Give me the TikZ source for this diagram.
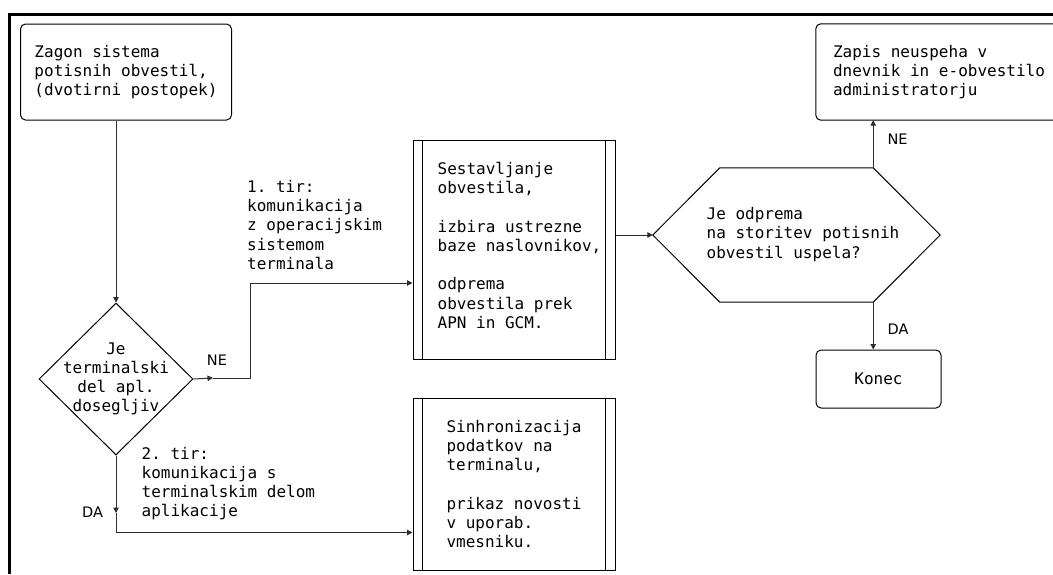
\documentclass[tikz,border=0pt]{standalone}
\usepackage{fontspec}
\setmonofont{DejaVu Sans Mono}
\newfontfamily\edgefont{DejaVu Sans}
\usetikzlibrary{arrows.meta, positioning, calc, shapes.geometric}
\definecolor{flowline}{RGB}{45, 45, 45}
\newcommand{\boxfont}{\ttfamily\fontsize{16}{19.2}\selectfont}
\tikzset{
  roundbox/.style={draw, rounded corners=5pt, line width=1pt, align=left,
    inner sep=0pt, font=\boxfont},
  procbox/.style={draw, line width=1pt, inner sep=0pt,
    minimum width=202pt},
  boxtext/.style={align=left, inner sep=0pt, font=\boxfont},
  edgetext/.style={inner sep=0pt, font=\edgefont\fontsize{14.5}{16}\selectfont},
  flow/.style={draw=flowline, line width=1pt, -{Triangle[length=5.5pt,width=5.5pt]}}
}

\begin{document}
\begin{tikzpicture}[x=1pt, y=-1pt]

  \useasboundingbox (0,0) rectangle (1053,574);
  \clip (0,0) rectangle (1053,574);

  % --- page frame ---
  \draw[line width=3pt] (9,574) -- (9,14) -- (1053,14);

  % --- start ---
  \node[roundbox, minimum width=211pt, minimum height=96pt] (start) at (126,72)
    {Zagon sistema\\potisnih obvestil,\\(dvotirni postopek)};

  % --- decision: is the app part reachable ---
  \node[diamond, draw, line width=1pt, inner sep=0pt,
        minimum width=154pt, minimum height=152pt,
        label={[boxtext, align=center]center:Je\\terminalski\\del apl.\\dosegljiv}]
    (reach) at (116,379) {};

  % --- track 1: OS notification ---
  \node[procbox, minimum height=219pt,
        label={[boxtext, xshift=5.5pt, yshift=4pt]center:Sestavljanje\\obvestila,\\[19.2pt]izbira ustrezne\\baze naslovnikov,\\[19.2pt]odprema\\obvestila prek\\APN in GCM.}]
    (compose) at (514,249.5) {};

  % --- track 2: in-app sync ---
  \node[procbox, minimum height=172pt,
        label={[boxtext]center:Sinhronizacija\\podatkov na\\terminalu,\\[19.2pt]prikaz novosti\\v uporab.\\vmesniku.}]
    (sync) at (514,484) {};

  \foreach \p in {compose, sync} {
    \draw[line width=1pt] ($(\p.north west)+(10,0)$) -- ($(\p.south west)+(10,0)$);
    \draw[line width=1pt] ($(\p.north east)+(-10,0)$) -- ($(\p.south east)+(-10,0)$);
  }

  % --- decision: was the push dispatch ok ---
  \node[minimum width=287pt, minimum height=134pt, inner sep=0pt,
        label={[boxtext, xshift=6.5pt, yshift=0.5pt]center:Je odprema\\na storitev potisnih\\obvestil uspela?}]
    (sent) at (796.5,235) {};
  \coordinate (sentNE) at ($(sent.north east)+(-67,0)$);
  \coordinate (sentSE) at ($(sent.south east)+(-67,0)$);
  \draw[line width=1pt] (sent.west) -- ($(sent.north west)+(67,0)$) -- (sentNE)
    -- (sent.east) -- (sentSE) -- ($(sent.south west)+(67,0)$) -- cycle;

  % --- failure log (runs off the right edge) / end ---
  \node[boxtext, minimum width=246pt, minimum height=96pt, align=left] (fail) at (939,72)
    {Zapis neuspeha v\\dnevnik in e-obvestilo\\administratorju};
  \draw[line width=1pt, rounded corners=5pt]
    (1070,24) -- (fail.north west) -- (fail.south west) -- (1070,120);
  \node[roundbox, minimum width=125pt, minimum height=58pt] (done) at (878.5,379)
    {Konec};

  % --- connectors ---
  \draw[flow] (reach.north |- start.south) -- (reach.north);

  \coordinate (neMid) at (213,378);
  \coordinate (daMid) at (116,513);
  \draw[flow] (reach.east) -- (neMid);
  \draw[flow] (neMid) -- (250,378) -- (250,283) -- (compose.west |- 0,283);
  \draw[flow] (reach.south) -- (daMid);
  \draw[flow] (daMid) -- (116,532.5) -- (sync.west |- 0,532.5);

  \draw[flow] (compose.east |- sent.west) -- (sent.west);
  \draw[flow] (sentNE) -- (sentNE |- fail.south);
  \draw[flow] (sentSE) -- (sentSE |- done.north);

  % --- connector labels ---
  \node[boxtext, anchor=west] (track1) at (247,225)
    {1. tir:\\komunikacija\\z operacijskim\\sistemom\\terminala};
  \node[boxtext, anchor=west] (track2) at (141.5,483.5)
    {2. tir:\\komunikacija s\\terminalskim delom\\aplikacije};
  \node[edgetext] (neLeft) at (217,360) {NE};
  \node[edgetext] (daLeft) at (92.5,512) {DA};
  \node[edgetext] (neTop) at (897.5,139) {NE};
  \node[edgetext] (daRight) at (898,329.5) {DA};

\end{tikzpicture}
\end{document}
